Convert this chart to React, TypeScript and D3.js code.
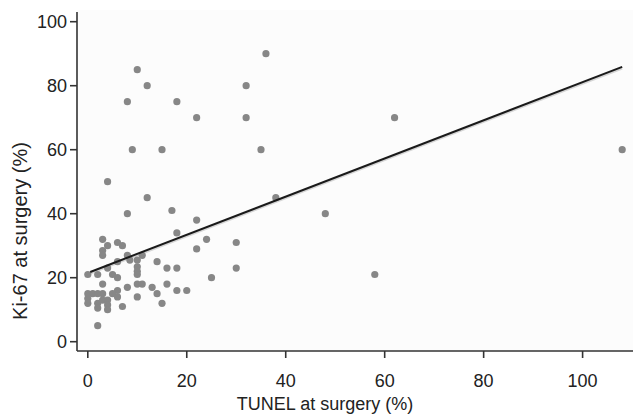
import React from "react";
import * as d3 from "d3";

// TUNEL at surgery (%) values
const tunel: number[] = [
  0, 2, 5, 6, 4, 3, 8, 6, 10, 11, 13, 16, 18, 20, 14, 15, 10,
  0, 1, 2, 3, 5, 0, 0, 2, 2, 3, 4, 4, 4, 6, 7, 2,
  3, 4, 6, 7, 3, 3, 8, 11, 6, 8.5, 10, 14, 10, 10, 10, 16, 18,
  22, 22, 24, 30, 30, 25, 18, 17, 12, 8, 4, 38, 48, 58, 62, 108,
  36, 10, 12, 32, 8, 18, 22, 32, 9, 15, 35,
];
// Ki-67 at surgery (%) values
const ki67: number[] = [
  21, 21, 21, 20, 23, 18, 17, 16, 18, 18, 17, 18, 16, 16, 15, 12, 14,
  15, 15, 15, 15, 15, 13.5, 12, 12, 10.5, 13, 13, 11.5, 10, 14, 11, 5,
  32, 30, 31, 30, 28.5, 27, 27, 27, 25, 25.5, 25.5, 25, 23.4, 22, 21, 23, 23,
  29, 38, 32, 31, 23, 20, 34, 41, 45, 40, 50, 45, 40, 21, 70, 60,
  90, 85, 80, 80, 75, 75, 70, 70, 60, 60, 60,
];

const xTicks = [0, 20, 40, 60, 80, 100];
const yTicks = [0, 20, 40, 60, 80, 100];

// regression line
const fitIntercept = 21.5;
const fitSlope = 0.596;
const fitRange = [0.5, 108];

const W = 633;
const H = 414;

export default function App() {
  const x = d3.scaleLinear().domain([0, 100]).range([87.8, 582.6]);
  const y = d3.scaleLinear().domain([0, 100]).range([341.7, 21.7]);
  const axisX = 77;
  const axisY = 351;
  const font = "'Liberation Sans', Arial, Helvetica, sans-serif";
  const line = d3
    .line<number>()
    .x((d) => x(d))
    .y((d) => y(fitIntercept + fitSlope * d));
  const fitPath = line(fitRange) || "";
  return (
    <div style={{ position: "absolute", left: 0, top: 0 }}>
      <svg width={W} height={H} style={{ display: "block", background: "#fff" }}>
        <rect x={axisX} y={10} width={W - axisX} height={axisY - 10} fill="#fcfcfc" />
        {/* fit line shadow */}
        <path d={fitPath} transform="translate(0,1.6)" stroke="#bbb" strokeWidth={2} fill="none" opacity={0.6} />
        {tunel.map((t, i) => (
          <circle key={i} cx={x(t)} cy={y(ki67[i])} r={3.6} fill="#878787" />
        ))}
        <path d={fitPath} stroke="#1a1a1a" strokeWidth={2} fill="none" />
        {/* axes */}
        <line x1={axisX} x2={axisX} y1={12} y2={axisY} stroke="#333" strokeWidth={1.6} />
        <line x1={axisX} x2={W} y1={axisY} y2={axisY} stroke="#333" strokeWidth={1.6} />
        {yTicks.map((t) => (
          <g key={"y" + t}>
            <line x1={axisX - 7} x2={axisX} y1={y(t)} y2={y(t)} stroke="#333" strokeWidth={1.6} />
            <text x={axisX - 10} y={y(t)} dy="0.35em" textAnchor="end" fontFamily={font} fontSize={18} fill="#222">
              {t}
            </text>
          </g>
        ))}
        {xTicks.map((t) => (
          <g key={"x" + t}>
            <line x1={x(t)} x2={x(t)} y1={axisY} y2={axisY + 7} stroke="#333" strokeWidth={1.6} />
            <text x={x(t)} y={387} textAnchor="middle" fontFamily={font} fontSize={18} fill="#222">
              {t}
            </text>
          </g>
        ))}
        <text x={325} y={410} textAnchor="middle" fontFamily={font} fontSize={18} fill="#222">
          TUNEL at surgery (%)
        </text>
        <text
          transform={`translate(27,231) rotate(-90)`}
          textAnchor="middle"
          fontFamily={font}
          fontSize={20}
          fill="#222"
        >
          Ki-67 at surgery (%)
        </text>
      </svg>
    </div>
  );
}
